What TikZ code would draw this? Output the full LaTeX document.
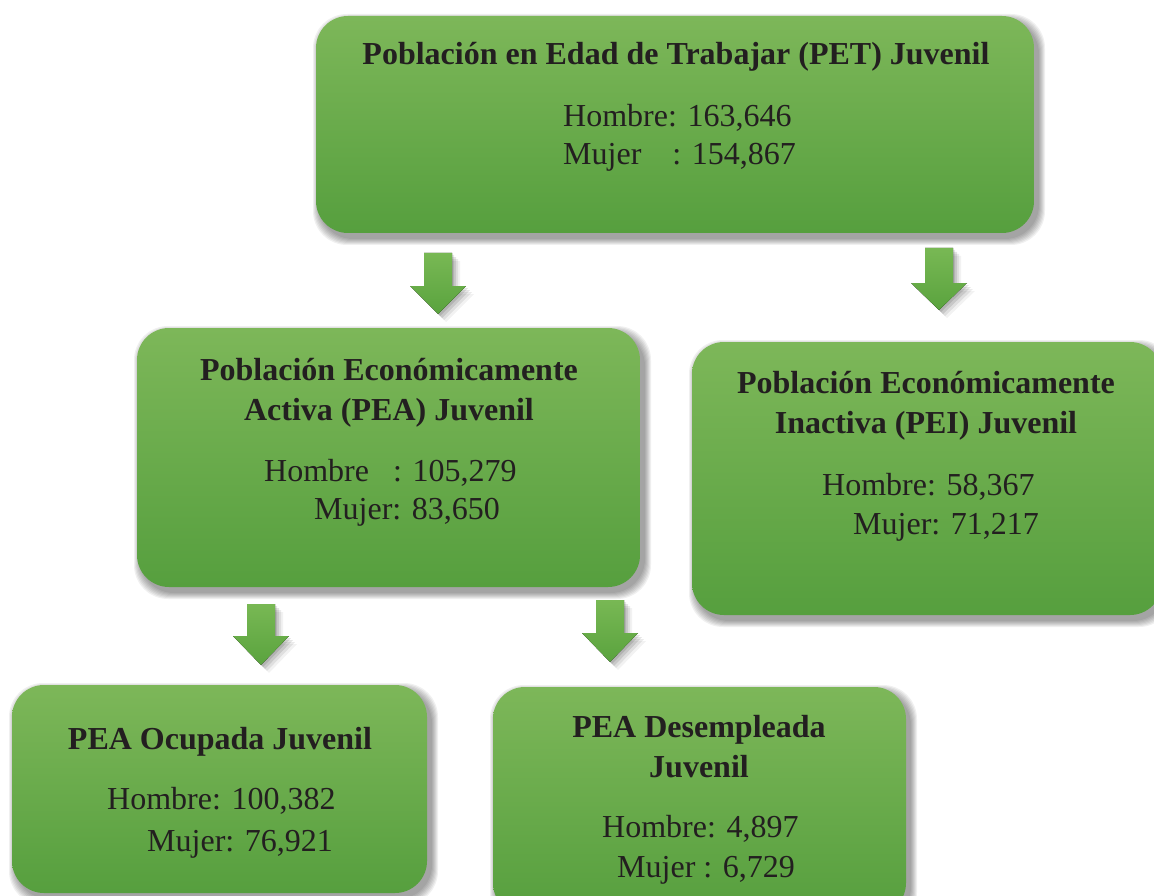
\documentclass[tikz,border=0pt]{standalone}
\usepackage{fontspec}
\setmainfont{Liberation Serif}
\usetikzlibrary{fit}
\definecolor{gtop}{RGB}{125,183,89}
\definecolor{gbot}{RGB}{86,159,62}
\definecolor{txt}{RGB}{35,31,32}
\definecolor{atop}{RGB}{120,184,84}
\definecolor{abot}{RGB}{90,163,62}
\tikzset{
  boxshape/.style={rectangle, rounded corners=32pt, top color=gtop, bottom color=gbot, draw=none, inner sep=0pt},
  ttl/.style={font=\bfseries\fontsize{32}{38}\selectfont, text=txt, anchor=base, inner sep=0pt},
  val/.style={font=\fontsize{32}{38}\selectfont, text=txt, anchor=base west, inner sep=0pt},
  arrowfill/.style={top color=atop, bottom color=abot, draw=none},
}
\newcommand{\softshadow}[4]{%
  \foreach \s in {1,...,7}{\fill[black,opacity=0.06,rounded corners=34pt] (#1+4-\s,#2-5+\s) rectangle (#3+4+\s,#4-5-\s);}}
\newcommand{\greenbox}[5]{%
  \softshadow{#2}{#3}{#4}{#5}
  \node[boxshape, fit={(#2,#3) (#4,#5)}] (#1) {};}
% block arrow: name, center x, top y, head y, tip y
\newcommand{\blockarrow}[5]{%
  \coordinate (#1) at (#2,#4);
  \foreach \d/\o in {2/0.10,4/0.10,6/0.08,8/0.05}{
    \fill[black,opacity=\o] (#2-14+\d,#3-\d) -- (#2+14+\d,#3-\d) -- (#2+14+\d,#4-\d) -- (#2+28+\d,#4-\d) -- (#2+\d,#5-\d) -- (#2-28+\d,#4-\d) -- (#2-14+\d,#4-\d) -- cycle;}
  \fill[arrowfill] (#2-14,#3) -- (#2+14,#3) -- (#2+14,#4) -- (#2+28,#4) -- (#2,#5) -- (#2-28,#4) -- (#2-14,#4) -- cycle;}
\begin{document}
\begin{tikzpicture}[x=1pt,y=1pt]
\fill[white] (0,0) rectangle (1154,-896);
\useasboundingbox (0,0) rectangle (1154,-896);

% boxes
\greenbox{pet}{316}{-16}{1034}{-233}
\greenbox{pea}{137}{-328}{640}{-587}
\greenbox{pei}{692}{-342}{1162}{-615}
\greenbox{ocu}{12}{-685}{427}{-893}
\greenbox{des}{493}{-687}{906}{-915}

% arrows
\blockarrow{a1}{438}{-253}{-286}{-314}
\blockarrow{a2}{939}{-248}{-283}{-310}
\blockarrow{a3}{261}{-604}{-636}{-665}
\blockarrow{a4}{610}{-600}{-633}{-662}

% PET
\node[ttl] (pett) at (676,-65) {Población en Edad de Trabajar (PET) Juvenil};
\node[val] (peth) at (563,-127) {Hombre: 163,646};
\node[val] (petm) at (563,-165) {Mujer\hspace{31pt}: 154,867};

% PEA
\node[ttl] (peat1) at (389,-380) {Población Económicamente};
\node[ttl] (peat2) at (389,-420) {Activa (PEA) Juvenil};
\node[val] (peah) at (264,-481) {Hombre\hspace{24pt}: 105,279};
\node[val] (peam) at (314,-519) {Mujer: 83,650};

% PEI
\node[ttl] (peit1) at (926,-393) {Población Económicamente};
\node[ttl] (peit2) at (926,-433) {Inactiva (PEI) Juvenil};
\node[val] (peih) at (822,-495) {Hombre: 58,367};
\node[val] (peim) at (853,-534) {Mujer: 71,217};

% PEA Ocupada
\node[ttl] (ocut) at (220,-749) {PEA Ocupada Juvenil};
\node[val] (ocuh) at (107,-809) {Hombre: 100,382};
\node[val] (ocum) at (147,-851) {Mujer: 76,921};

% PEA Desempleada
\node[ttl] (dest1) at (699,-737) {PEA Desempleada};
\node[ttl] (dest2) at (699,-777) {Juvenil};
\node[val] (desh) at (602,-837) {Hombre: 4,897};
\node[val] (desm) at (617,-877) {Mujer : 6,729};
\end{tikzpicture}
\end{document}
